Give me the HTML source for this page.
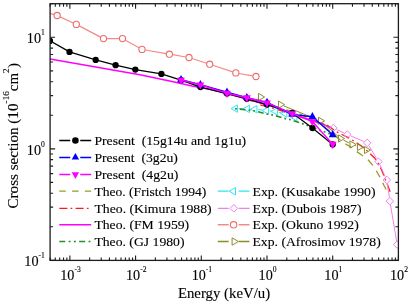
<!DOCTYPE html><html><head><meta charset="utf-8"><style>html,body{margin:0;padding:0;background:#fff;overflow:hidden}svg{display:block;will-change:transform}</style></head><body><svg width="410" height="302" viewBox="0 0 410 302" font-family="Liberation Serif">
<style>text{stroke:#000;stroke-width:0.12px;paint-order:stroke}</style>
<rect width="410" height="302" fill="#fff"/>
<defs><clipPath id="c"><rect x="50.1" y="3.7" width="348.29999999999995" height="256.7"/></clipPath></defs>
<g clip-path="url(#c)">
<path d="M250.0,100.5 L275.0,106.5 L299.0,113.5 L310.0,119.0 L322.0,125.0 L333.0,134.0 L343.0,142.5 L350.0,146.5 L356.0,151.0 L362.0,155.3 L368.0,159.7 L373.0,165.5 L377.0,172.0 L381.0,179.0 L384.0,185.5 L386.8,190.8" fill="none" stroke="#999922" stroke-width="1.3" stroke-dasharray="7.5,6.3" stroke-linejoin="round" stroke-dashoffset="3.85"/>
<path d="M259.0,104.6 L262.0,105.3 L271.0,107.5 L290.0,113.5 L310.0,119.5 L322.0,123.0 L326.0,124.5 L330.0,127.0 L336.0,131.5 L342.0,134.5 L350.0,138.6 L356.0,142.4 L364.0,148.0 L370.0,153.5 L375.0,158.5 L379.0,164.5 L382.0,171.0 L385.0,178.5 L388.0,186.0 L390.8,193.5" fill="none" stroke="#ff1a1a" stroke-width="1.3" stroke-dasharray="8.6,3.5,1.8,3.5" stroke-linejoin="round" stroke-dashoffset="16.07"/>
<path d="M50.0,59.1 L100.0,67.8 L140.0,74.8 L172.0,81.6 L192.0,85.9 L211.0,89.5 L240.0,97.0 L257.0,102.0 L277.0,107.2 L296.0,115.5 L309.0,119.5 L320.0,123.0 L330.0,127.5" fill="none" stroke="#ff00ff" stroke-width="1.5" stroke-linejoin="round" />
<path d="M238.8,108.7 L243.8,108.8 M250.8,109.0 L251.3,109.1 M258.3,109.6 L262.8,110.2 M269.8,110.9 L271.8,111.1 M278.7,112.2 L281.4,112.8 M288.1,114.8 L291.5,116.2" fill="none" stroke="#2ee6f2" stroke-width="1.0"/>
<polygon points="231.11,108.6 237.40,104.90 237.40,112.30" fill="none" stroke="#2ee6f2" stroke-width="1"/>
<polygon points="243.11,108.9 249.40,105.20 249.40,112.60" fill="none" stroke="#2ee6f2" stroke-width="1"/>
<polygon points="250.61,109.2 256.90,105.50 256.90,112.90" fill="none" stroke="#2ee6f2" stroke-width="1"/>
<polygon points="262.11,110.6 268.40,106.90 268.40,114.30" fill="none" stroke="#2ee6f2" stroke-width="1"/>
<polygon points="271.11,111.4 277.40,107.70 277.40,115.10" fill="none" stroke="#2ee6f2" stroke-width="1"/>
<polygon points="280.61,113.6 286.90,109.90 286.90,117.30" fill="none" stroke="#2ee6f2" stroke-width="1"/>
<polygon points="290.61,117.4 296.90,113.70 296.90,121.10" fill="none" stroke="#2ee6f2" stroke-width="1"/>
<path d="M233.0,108.6 L240.0,109.2 L248.0,110.0 L255.0,111.0 L261.0,112.5 L267.0,114.1 L272.0,114.8 L279.0,116.8 L286.0,118.8 L291.0,119.8 L299.0,122.5 L306.0,125.0 L312.0,127.3 L318.0,129.7 L325.0,132.0 L333.0,135.0" fill="none" stroke="#2a8f2a" stroke-width="1.7" stroke-dasharray="5.8,3,1.8,3,1.8,3" stroke-linejoin="round" stroke-dashoffset="11.57"/>
<path d="M336.7,129.6 L343.9,132.9 M350.8,136.0 L363.7,141.3 M369.2,146.1 L376.5,158.4 M380.1,165.2 L385.2,176.5 M387.3,183.8 L389.4,197.4 M390.5,204.9 L396.6,240.9" fill="none" stroke="#f27ff2" stroke-width="1.0"/>
<polygon points="333.3,124.2 337.1,128.0 333.3,131.8 329.6,128.0" fill="none" stroke="#f27ff2" stroke-width="1"/>
<polygon points="347.3,130.8 351.1,134.5 347.3,138.2 343.6,134.5" fill="none" stroke="#f27ff2" stroke-width="1"/>
<polygon points="367.2,139.1 370.9,142.8 367.2,146.6 363.4,142.8" fill="none" stroke="#f27ff2" stroke-width="1"/>
<polygon points="378.5,157.9 382.2,161.7 378.5,165.4 374.8,161.7" fill="none" stroke="#f27ff2" stroke-width="1"/>
<polygon points="386.8,176.2 390.6,180.0 386.8,183.8 383.1,180.0" fill="none" stroke="#f27ff2" stroke-width="1"/>
<polygon points="389.9,197.4 393.6,201.2 389.9,204.9 386.1,201.2" fill="none" stroke="#f27ff2" stroke-width="1"/>
<polygon points="397.2,240.8 400.9,244.6 397.2,248.3 393.4,244.6" fill="none" stroke="#f27ff2" stroke-width="1"/>
<path d="M47.2,12.7 L53.9,14.6 M60.1,16.9 L73.3,23.0 M79.2,25.9 L100.6,37.1 M106.8,38.6 L119.2,38.6 M125.4,40.2 L139.1,47.8 M145.3,50.0 L166.1,53.6 M172.7,54.7 L185.7,57.0 M192.1,58.5 L206.6,63.2 M212.8,65.2 L232.7,71.9 M239.0,73.5 L252.8,75.9" fill="none" stroke="#f28a8a" stroke-width="1.2"/>
<circle cx="44.0" cy="11.8" r="3.1" fill="none" stroke="#f06c6c" stroke-width="1.1"/>
<circle cx="57.1" cy="15.5" r="3.1" fill="none" stroke="#f06c6c" stroke-width="1.1"/>
<circle cx="76.3" cy="24.4" r="3.1" fill="none" stroke="#f06c6c" stroke-width="1.1"/>
<circle cx="103.5" cy="38.6" r="3.1" fill="none" stroke="#f06c6c" stroke-width="1.1"/>
<circle cx="122.5" cy="38.6" r="3.1" fill="none" stroke="#f06c6c" stroke-width="1.1"/>
<circle cx="142.0" cy="49.4" r="3.1" fill="none" stroke="#f06c6c" stroke-width="1.1"/>
<circle cx="169.4" cy="54.2" r="3.1" fill="none" stroke="#f06c6c" stroke-width="1.1"/>
<circle cx="189.0" cy="57.5" r="3.1" fill="none" stroke="#f06c6c" stroke-width="1.1"/>
<circle cx="209.7" cy="64.2" r="3.1" fill="none" stroke="#f06c6c" stroke-width="1.1"/>
<circle cx="235.8" cy="72.9" r="3.1" fill="none" stroke="#f06c6c" stroke-width="1.1"/>
<circle cx="256.0" cy="76.5" r="3.1" fill="none" stroke="#f06c6c" stroke-width="1.1"/>
<path d="M283.7,105.9 L317.3,119.5 M323.1,123.1 L337.9,136.2 M343.6,140.1 L348.9,142.9 M355.3,145.6 L356.2,145.9 M362.7,148.4 L363.3,148.6" fill="none" stroke="#8c8c28" stroke-width="1.0"/>
<polygon points="264.58,97.0 258.46,93.40 258.46,100.60" fill="none" stroke="#8c8c28" stroke-width="1"/>
<polygon points="284.58,104.6 278.46,101.00 278.46,108.20" fill="none" stroke="#8c8c28" stroke-width="1"/>
<polygon points="324.58,120.8 318.46,117.20 318.46,124.40" fill="none" stroke="#8c8c28" stroke-width="1"/>
<polygon points="344.58,138.5 338.46,134.90 338.46,142.10" fill="none" stroke="#8c8c28" stroke-width="1"/>
<polygon points="356.08,144.5 349.96,140.90 349.96,148.10" fill="none" stroke="#8c8c28" stroke-width="1"/>
<polygon points="363.58,147.0 357.46,143.40 357.46,150.60" fill="none" stroke="#8c8c28" stroke-width="1"/>
<polygon points="370.58,150.0 364.46,146.40 364.46,153.60" fill="none" stroke="#8c8c28" stroke-width="1"/>
<path d="M50.0,40.9 L69.5,51.9 L95.7,59.9 L115.6,65.2 L135.3,69.6 L161.4,73.9 L181.0,80.2 L200.4,87.1 L227.0,93.6 L246.9,98.8 L267.0,104.6 L292.2,113.0 L312.4,128.0 L332.7,144.4" fill="none" stroke="#000" stroke-width="1.25" stroke-linejoin="round" />
<circle cx="50.0" cy="40.9" r="3.15" fill="#000"/>
<circle cx="69.5" cy="51.9" r="3.15" fill="#000"/>
<circle cx="95.7" cy="59.9" r="3.15" fill="#000"/>
<circle cx="115.6" cy="65.2" r="3.15" fill="#000"/>
<circle cx="135.3" cy="69.6" r="3.15" fill="#000"/>
<circle cx="161.4" cy="73.9" r="3.15" fill="#000"/>
<circle cx="181.0" cy="80.2" r="3.15" fill="#000"/>
<circle cx="200.4" cy="87.1" r="3.15" fill="#000"/>
<circle cx="227.0" cy="93.6" r="3.15" fill="#000"/>
<circle cx="246.9" cy="98.8" r="3.15" fill="#000"/>
<circle cx="267.0" cy="104.6" r="3.15" fill="#000"/>
<circle cx="292.2" cy="113.0" r="3.15" fill="#000"/>
<circle cx="312.4" cy="128.0" r="3.15" fill="#000"/>
<circle cx="332.7" cy="144.4" r="3.15" fill="#000"/>
<path d="M181.0,79.8 L200.4,84.8 L227.0,92.2 L246.9,97.7 L267.0,102.4 L292.2,114.5 L312.4,116.7 L332.7,134.8" fill="none" stroke="#0000ff" stroke-width="1.4" stroke-linejoin="round" />
<polygon points="181.0,75.12 184.90,82.14 177.10,82.14" fill="#0000ff"/>
<polygon points="200.4,80.12 204.30,87.14 196.50,87.14" fill="#0000ff"/>
<polygon points="227.0,87.52 230.90,94.54 223.10,94.54" fill="#0000ff"/>
<polygon points="246.9,93.02 250.80,100.04 243.00,100.04" fill="#0000ff"/>
<polygon points="267.0,97.72 270.90,104.74 263.10,104.74" fill="#0000ff"/>
<polygon points="292.2,109.82 296.10,116.84 288.30,116.84" fill="#0000ff"/>
<polygon points="312.4,112.02 316.30,119.04 308.50,119.04" fill="#0000ff"/>
<polygon points="332.7,130.12 336.60,137.14 328.80,137.14" fill="#0000ff"/>
<path d="M181.0,80.0 L200.4,84.9 L227.0,93.2 L246.9,97.7 L267.0,102.8 L292.2,113.6 L312.4,121.5 L332.7,144.2" fill="none" stroke="#ff00ff" stroke-width="1.4" stroke-linejoin="round" />
<polygon points="181.0,84.68 184.90,77.66 177.10,77.66" fill="#ff00ff"/>
<polygon points="200.4,89.58 204.30,82.56 196.50,82.56" fill="#ff00ff"/>
<polygon points="227.0,97.88 230.90,90.86 223.10,90.86" fill="#ff00ff"/>
<polygon points="246.9,102.38 250.80,95.36 243.00,95.36" fill="#ff00ff"/>
<polygon points="267.0,107.48 270.90,100.46 263.10,100.46" fill="#ff00ff"/>
<polygon points="292.2,118.28 296.10,111.26 288.30,111.26" fill="#ff00ff"/>
<polygon points="312.4,126.18 316.30,119.16 308.50,119.16" fill="#ff00ff"/>
<polygon points="332.7,148.88 336.60,141.86 328.80,141.86" fill="#ff00ff"/>
</g>
<rect x="50.1" y="3.7" width="348.29999999999995" height="256.7" fill="none" stroke="#1c1c1c" stroke-width="1.3"/>
<path d="M50.10,260.4 v-3 M50.10,3.7 v3 M55.30,260.4 v-3 M55.30,3.7 v3 M59.70,260.4 v-3 M59.70,3.7 v3 M63.51,260.4 v-3 M63.51,3.7 v3 M66.87,260.4 v-3 M66.87,3.7 v3 M69.88,260.4 v-5 M69.88,3.7 v5 M89.66,260.4 v-3 M89.66,3.7 v3 M101.23,260.4 v-3 M101.23,3.7 v3 M109.44,260.4 v-3 M109.44,3.7 v3 M115.80,260.4 v-3 M115.80,3.7 v3 M121.01,260.4 v-3 M121.01,3.7 v3 M125.41,260.4 v-3 M125.41,3.7 v3 M129.22,260.4 v-3 M129.22,3.7 v3 M132.58,260.4 v-3 M132.58,3.7 v3 M135.58,260.4 v-5 M135.58,3.7 v5 M155.36,260.4 v-3 M155.36,3.7 v3 M166.93,260.4 v-3 M166.93,3.7 v3 M175.14,260.4 v-3 M175.14,3.7 v3 M181.51,260.4 v-3 M181.51,3.7 v3 M186.71,260.4 v-3 M186.71,3.7 v3 M191.11,260.4 v-3 M191.11,3.7 v3 M194.92,260.4 v-3 M194.92,3.7 v3 M198.28,260.4 v-3 M198.28,3.7 v3 M201.29,260.4 v-5 M201.29,3.7 v5 M221.07,260.4 v-3 M221.07,3.7 v3 M232.64,260.4 v-3 M232.64,3.7 v3 M240.85,260.4 v-3 M240.85,3.7 v3 M247.21,260.4 v-3 M247.21,3.7 v3 M252.42,260.4 v-3 M252.42,3.7 v3 M256.81,260.4 v-3 M256.81,3.7 v3 M260.62,260.4 v-3 M260.62,3.7 v3 M263.99,260.4 v-3 M263.99,3.7 v3 M266.99,260.4 v-5 M266.99,3.7 v5 M286.77,260.4 v-3 M286.77,3.7 v3 M298.34,260.4 v-3 M298.34,3.7 v3 M306.55,260.4 v-3 M306.55,3.7 v3 M312.92,260.4 v-3 M312.92,3.7 v3 M318.12,260.4 v-3 M318.12,3.7 v3 M322.52,260.4 v-3 M322.52,3.7 v3 M326.33,260.4 v-3 M326.33,3.7 v3 M329.69,260.4 v-3 M329.69,3.7 v3 M332.70,260.4 v-5 M332.70,3.7 v5 M352.47,260.4 v-3 M352.47,3.7 v3 M364.04,260.4 v-3 M364.04,3.7 v3 M372.25,260.4 v-3 M372.25,3.7 v3 M378.62,260.4 v-3 M378.62,3.7 v3 M383.82,260.4 v-3 M383.82,3.7 v3 M388.22,260.4 v-3 M388.22,3.7 v3 M392.03,260.4 v-3 M392.03,3.7 v3 M395.39,260.4 v-3 M395.39,3.7 v3 M398.40,260.4 v-5 M398.40,3.7 v5 M50.1,260.40 h5 M398.4,260.40 h-5 M50.1,226.82 h3 M398.4,226.82 h-3 M50.1,207.17 h3 M398.4,207.17 h-3 M50.1,193.23 h3 M398.4,193.23 h-3 M50.1,182.42 h3 M398.4,182.42 h-3 M50.1,173.59 h3 M398.4,173.59 h-3 M50.1,166.12 h3 M398.4,166.12 h-3 M50.1,159.65 h3 M398.4,159.65 h-3 M50.1,153.95 h3 M398.4,153.95 h-3 M50.1,148.84 h5 M398.4,148.84 h-5 M50.1,115.26 h3 M398.4,115.26 h-3 M50.1,95.61 h3 M398.4,95.61 h-3 M50.1,81.68 h3 M398.4,81.68 h-3 M50.1,70.87 h3 M398.4,70.87 h-3 M50.1,62.03 h3 M398.4,62.03 h-3 M50.1,54.56 h3 M398.4,54.56 h-3 M50.1,48.09 h3 M398.4,48.09 h-3 M50.1,42.39 h3 M398.4,42.39 h-3 M50.1,37.28 h5 M398.4,37.28 h-5 M50.1,3.70 h3 M398.4,3.70 h-3" stroke="#1c1c1c" stroke-width="1.1" fill="none"/>
<text x="70.5" y="279.8" font-size="14.2" text-anchor="middle">10<tspan font-size="7.6" dy="-8">-3</tspan></text>
<text x="136.2" y="279.8" font-size="14.2" text-anchor="middle">10<tspan font-size="7.6" dy="-8">-2</tspan></text>
<text x="201.9" y="279.8" font-size="14.2" text-anchor="middle">10<tspan font-size="7.6" dy="-8">-1</tspan></text>
<text x="267.6" y="279.8" font-size="14.2" text-anchor="middle">10<tspan font-size="7.6" dy="-8">0</tspan></text>
<text x="333.3" y="279.8" font-size="14.2" text-anchor="middle">10<tspan font-size="7.6" dy="-8">1</tspan></text>
<text x="399.0" y="279.8" font-size="14.2" text-anchor="middle">10<tspan font-size="7.6" dy="-8">2</tspan></text>
<text x="44.8" y="266.1" font-size="14.2" text-anchor="end">10<tspan font-size="7.6" dy="-8">-1</tspan></text>
<text x="44.8" y="154.5" font-size="14.2" text-anchor="end">10<tspan font-size="7.6" dy="-8">0</tspan></text>
<text x="44.8" y="43.0" font-size="14.2" text-anchor="end">10<tspan font-size="7.6" dy="-8">1</tspan></text>
<text x="224" y="297.8" font-size="14.8" text-anchor="middle">Energy (keV/u)</text>
<text transform="translate(17.9,208.5) rotate(-90)" font-size="15" textLength="105" lengthAdjust="spacingAndGlyphs">Cross section (10</text>
<text transform="translate(8.7,103.4) rotate(-90)" font-size="9.2">-16</text>
<text transform="translate(17.9,91.2) rotate(-90)" font-size="15">cm</text>
<text transform="translate(8.7,73.0) rotate(-90)" font-size="9.2">2</text>
<text transform="translate(17.9,68.1) rotate(-90)" font-size="15">)</text>
<path d="M59.3,140.5 H70.25 M80.25,140.5 H91.2" stroke="#000" stroke-width="1.5" fill="none"/>
<circle cx="75.4" cy="140.5" r="3.3" fill="#000"/>
<path d="M59.3,157.4 H70.25 M80.25,157.4 H91.2" stroke="#0000ff" stroke-width="1.5" fill="none"/>
<polygon points="75.4,152.96 79.10,159.62 71.70,159.62" fill="#0000ff"/>
<path d="M59.3,174.5 H70.25 M80.25,174.5 H91.2" stroke="#ff00ff" stroke-width="1.5" fill="none"/>
<polygon points="75.4,178.94 79.10,172.28 71.70,172.28" fill="#ff00ff"/>
<path d="M59.3,191.2 H91.2" stroke="#999922" stroke-width="1.3" fill="none" stroke-dasharray="6.5,6.3"/>
<path d="M59.3,208.3 H91.2" stroke="#ff1a1a" stroke-width="1.3" fill="none" stroke-dasharray="8,3.3,1.7,3.3"/>
<path d="M59.3,224.8 H91.2" stroke="#ff00ff" stroke-width="1.5" fill="none"/>
<path d="M59.3,241.5 H91.2" stroke="#2a8f2a" stroke-width="1.3" fill="none" stroke-dasharray="6,3.3,2,3.3,2,3.3"/>
<text x="94.4" y="145.1" font-size="13.3" xml:space="preserve" textLength="151.8" lengthAdjust="spacingAndGlyphs">Present  (15g14u and 1g1u)</text>
<text x="94.4" y="162.0" font-size="13.3" xml:space="preserve" textLength="83.5" lengthAdjust="spacingAndGlyphs">Present  (3g2u)</text>
<text x="94.4" y="179.1" font-size="13.3" xml:space="preserve" textLength="84.0" lengthAdjust="spacingAndGlyphs">Present  (4g2u)</text>
<text x="94.4" y="195.8" font-size="13.3" xml:space="preserve" textLength="112.0" lengthAdjust="spacingAndGlyphs">Theo. (Fristch 1994)</text>
<text x="94.4" y="212.9" font-size="13.3" xml:space="preserve" textLength="117.3" lengthAdjust="spacingAndGlyphs">Theo. (Kimura 1988)</text>
<text x="94.4" y="229.4" font-size="13.3" xml:space="preserve" textLength="94.8" lengthAdjust="spacingAndGlyphs">Theo. (FM 1959)</text>
<text x="94.4" y="246.1" font-size="13.3" xml:space="preserve" textLength="90.1" lengthAdjust="spacingAndGlyphs">Theo. (GJ 1980)</text>
<path d="M217.8,191.2 H228.65 M238.65,191.2 H249.5" stroke="#2ee6f2" stroke-width="1.3" fill="none"/>
<polygon points="229.21,191.2 235.50,187.50 235.50,194.90" fill="none" stroke="#2ee6f2" stroke-width="1"/>
<path d="M217.8,208.3 H228.65 M238.65,208.3 H249.5" stroke="#f27ff2" stroke-width="1.3" fill="none"/>
<polygon points="233.8,204.5 237.6,208.3 233.8,212.1 230.0,208.3" fill="none" stroke="#f27ff2" stroke-width="1"/>
<path d="M217.8,224.8 H228.65 M238.65,224.8 H249.5" stroke="#f28a8a" stroke-width="1.4" fill="none"/>
<circle cx="233.6" cy="224.8" r="3.2" fill="none" stroke="#f06c6c" stroke-width="1.1"/>
<path d="M217.8,241.5 H228.65 M238.65,241.5 H249.5" stroke="#8c8c28" stroke-width="1.3" fill="none"/>
<polygon points="238.39,241.5 232.10,237.80 232.10,245.20" fill="none" stroke="#8c8c28" stroke-width="1"/>
<text x="252.5" y="195.8" font-size="13.3" xml:space="preserve" textLength="123.0" lengthAdjust="spacingAndGlyphs">Exp. (Kusakabe 1990)</text>
<text x="252.5" y="212.9" font-size="13.3" xml:space="preserve" textLength="109.1" lengthAdjust="spacingAndGlyphs">Exp. (Dubois 1987)</text>
<text x="252.5" y="229.4" font-size="13.3" xml:space="preserve" textLength="106.3" lengthAdjust="spacingAndGlyphs">Exp. (Okuno 1992)</text>
<text x="252.5" y="246.1" font-size="13.3" xml:space="preserve" textLength="128.2" lengthAdjust="spacingAndGlyphs">Exp. (Afrosimov 1978)</text>
</svg></body></html>
